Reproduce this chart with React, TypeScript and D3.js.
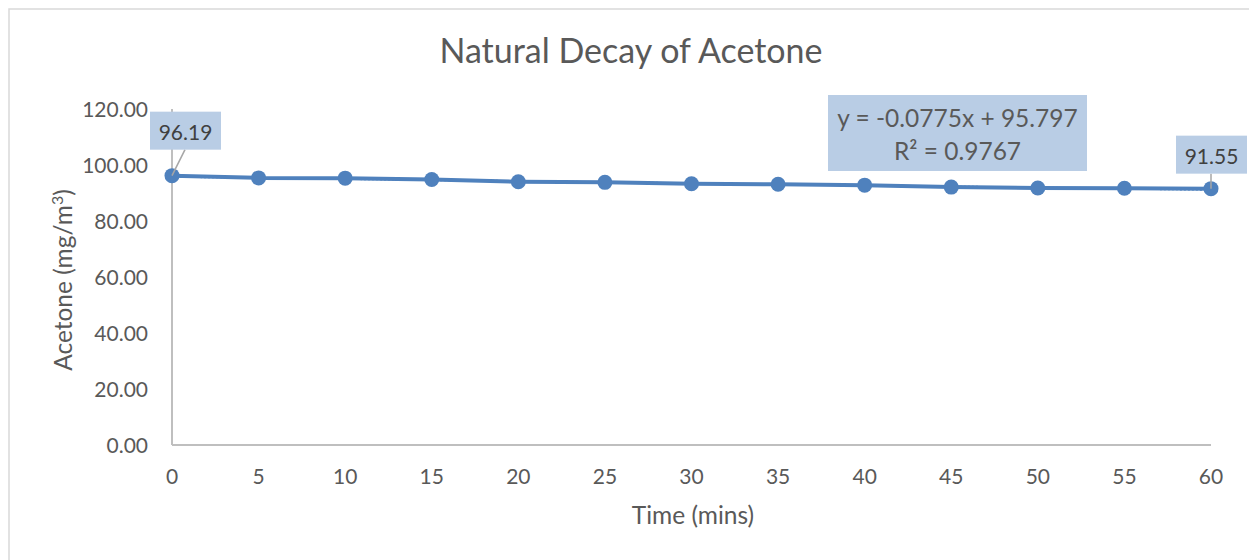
import React, { useRef, useEffect } from "react";
import * as d3 from "d3";

const times = [0, 5, 10, 15, 20, 25, 30, 35, 40, 45, 50, 55, 60];
const acetone = [96.19, 95.4, 95.3, 94.8, 94.0, 93.8, 93.3, 93.1, 92.8, 92.1, 91.8, 91.7, 91.55];
const yTicks = [0, 20, 40, 60, 80, 100, 120];

// linear trendline as printed on the chart
const trendSlope = -0.0775;
const trendIntercept = 95.797;
const rSquared = 0.9767;

const FONT = "Lato, 'Open Sans', sans-serif";
const BLUE = "#4F81BD";
const TEXT = "#595959";

const App: React.FC = () => {
  const svgRef = useRef<SVGSVGElement>(null);

  useEffect(() => {
    if (!svgRef.current) return;
    const W = 1249;
    const H = 560;

    const x = d3.scaleLinear().domain([0, 60]).range([172, 1211]);
    const y = d3.scaleLinear().domain([0, 120]).range([445, 109]);

    const svg = d3.select(svgRef.current);
    svg.selectAll("*").remove();
    svg.attr("viewBox", `0 0 ${W} ${H}`);

    // chart frame
    svg.append("rect")
      .attr("x", 9).attr("y", 9)
      .attr("width", 1260).attr("height", 580)
      .attr("fill", "white")
      .attr("stroke", "#d9d9d9")
      .attr("stroke-width", 1.5);

    // title
    svg.append("text")
      .attr("x", 631).attr("y", 63)
      .attr("text-anchor", "middle")
      .style("font-family", FONT)
      .style("font-size", "34px")
      .attr("fill", TEXT)
      .text("Natural Decay of Acetone");

    // axes lines
    svg.append("line")
      .attr("x1", x(0)).attr("x2", x(0))
      .attr("y1", y(0)).attr("y2", y(120))
      .attr("stroke", "#bfbfbf").attr("stroke-width", 2);
    svg.append("line")
      .attr("x1", x(0)).attr("x2", x(60))
      .attr("y1", y(0)).attr("y2", y(0))
      .attr("stroke", "#bfbfbf").attr("stroke-width", 2);

    // y tick labels
    svg.append("g")
      .selectAll("text")
      .data(yTicks)
      .join("text")
      .attr("x", 148)
      .attr("y", (d) => y(d) + 7.5)
      .attr("text-anchor", "end")
      .style("font-family", FONT)
      .style("font-size", "21px")
      .attr("fill", TEXT)
      .text((d) => d3.format(".2f")(d));

    // x tick labels
    svg.append("g")
      .selectAll("text")
      .data(times)
      .join("text")
      .attr("x", (d) => x(d))
      .attr("y", 484)
      .attr("text-anchor", "middle")
      .style("font-family", FONT)
      .style("font-size", "21px")
      .attr("fill", TEXT)
      .text((d) => d);

    // axis titles
    svg.append("text")
      .attr("x", 693).attr("y", 524)
      .attr("text-anchor", "middle")
      .style("font-family", FONT)
      .style("font-size", "24.5px")
      .attr("fill", TEXT)
      .text("Time (mins)");

    const yt = svg.append("text")
      .attr("transform", `translate(72,280) rotate(-90)`)
      .attr("text-anchor", "middle")
      .style("font-family", FONT)
      .style("font-size", "24.5px")
      .attr("fill", TEXT);
    yt.append("tspan").text("Acetone (mg/m");
    yt.append("tspan").attr("dy", -9).style("font-size", "16px").text("3");
    yt.append("tspan").attr("dy", 9).text(")");

    // trendline (dotted)
    svg.append("line")
      .attr("x1", x(0)).attr("x2", x(60))
      .attr("y1", y(trendIntercept))
      .attr("y2", y(trendIntercept + trendSlope * 60))
      .attr("stroke", BLUE)
      .attr("stroke-width", 2)
      .attr("stroke-dasharray", "2,2");

    // data line + markers
    const pts = times.map((t, i) => [t, acetone[i]] as [number, number]);
    const line = d3.line<[number, number]>()
      .x((d) => x(d[0]))
      .y((d) => y(d[1]));
    svg.append("path")
      .datum(pts)
      .attr("d", line)
      .attr("fill", "none")
      .attr("stroke", BLUE)
      .attr("stroke-width", 4)
      .attr("stroke-linejoin", "round");
    svg.append("g")
      .selectAll("circle")
      .data(pts)
      .join("circle")
      .attr("cx", (d) => x(d[0]))
      .attr("cy", (d) => y(d[1]))
      .attr("r", 7.5)
      .attr("fill", BLUE);

    // data labels with leader lines (first and last point)
    const labelBox = (px: number, py: number, bx: number, by: number, leadX: number, txt: string) => {
      const bw = 71, bh = 38;
      svg.append("line")
        .attr("x1", px).attr("y1", py)
        .attr("x2", leadX).attr("y2", by + bh)
        .attr("stroke", "#a6a6a6").attr("stroke-width", 1.5);
      svg.append("rect")
        .attr("x", bx).attr("y", by)
        .attr("width", bw).attr("height", bh)
        .attr("fill", "#b9cde5");
      svg.append("text")
        .attr("x", bx + bw / 2).attr("y", by + 28)
        .attr("text-anchor", "middle")
        .style("font-family", FONT)
        .style("font-size", "21px")
        .attr("fill", "#404040")
        .text(txt);
    };
    const n = times.length - 1;
    const p0x = x(times[0]), p0y = y(acetone[0]);
    const pnx = x(times[n]), pny = y(acetone[n]);
    labelBox(p0x, p0y, p0x - 22, p0y - 64, p0x + 13, acetone[0].toFixed(2));
    labelBox(pnx, pny, pnx - 35, pny - 53, pnx, acetone[n].toFixed(2));

    // trendline equation box
    const eq = svg.append("g").attr("transform", `translate(828,95)`);
    eq.append("rect").attr("width", 259).attr("height", 76).attr("fill", "#b9cde5");
    eq.append("text")
      .attr("x", 129.5).attr("y", 32)
      .attr("text-anchor", "middle")
      .style("font-family", FONT)
      .style("font-size", "24.5px")
      .attr("fill", TEXT)
      .text(`y = ${trendSlope}x + ${trendIntercept}`);
    eq.append("text")
      .attr("x", 129.5).attr("y", 65)
      .attr("text-anchor", "middle")
      .style("font-family", FONT)
      .style("font-size", "24.5px")
      .attr("fill", TEXT)
      .text(`R² = ${rSquared}`);
  }, []);

  return (
    <svg
      ref={svgRef}
      width={1249}
      height={560}
      style={{ position: "absolute", left: 0, top: 0, display: "block" }}
    />
  );
};

export default App;
